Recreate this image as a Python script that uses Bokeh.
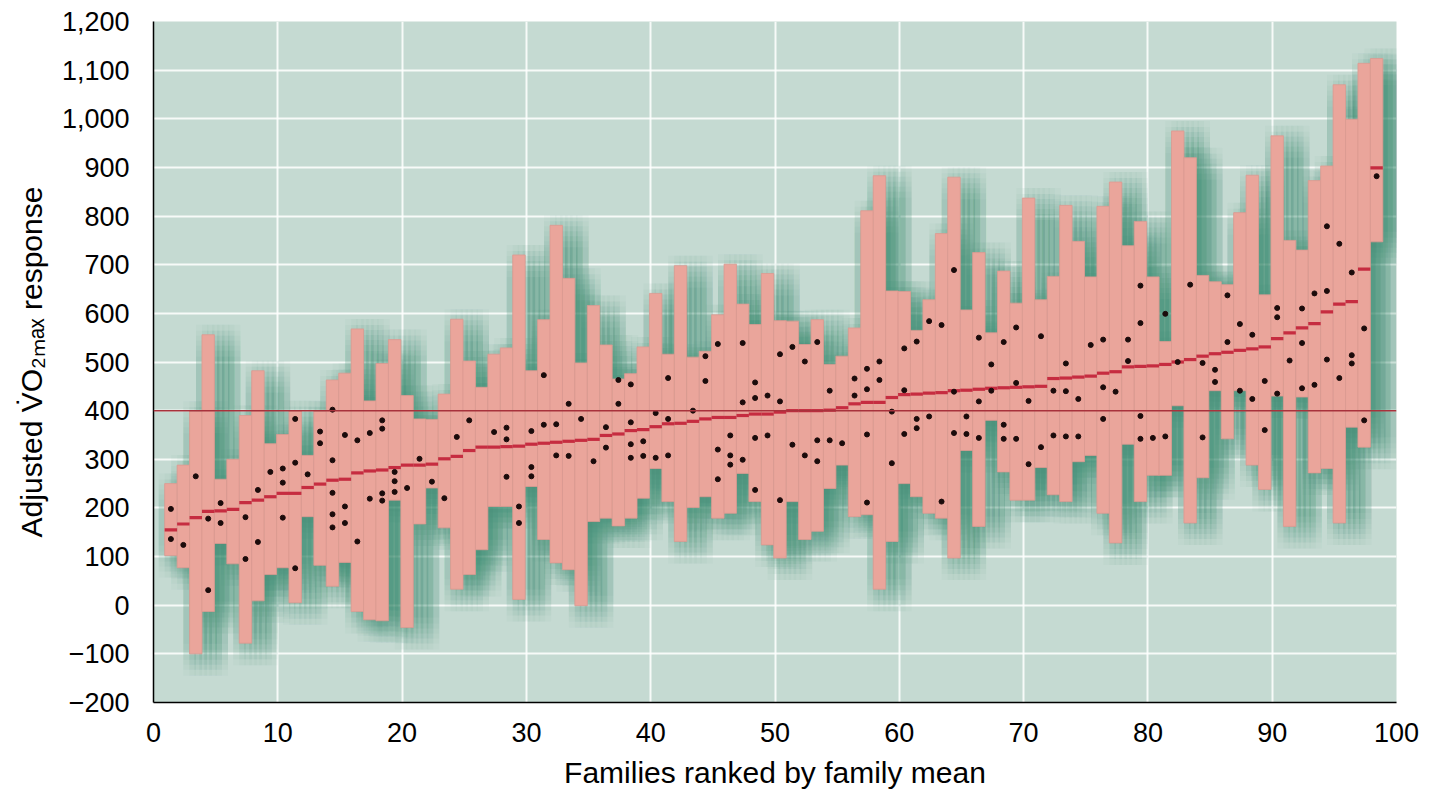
from bokeh.plotting import figure
from bokeh.models import FixedTicker, Span
from bokeh.embed import file_html
from bokeh.resources import INLINE

# ---------------- data ----------------
family_rank = list(range(1, 99))

range_low = [
    102, 77, -100, -13, 127, 85, -78, 9, 63, 77,
    5, 182, 82, 39, 88, -13, -30, -32, 216, -46,
    167, 241, 159, 33, 63, 114, 203, 203, 12, 244,
    135, 87, 73, -1, 172, 179, 163, 179, 220, 281,
    213, 131, 201, 223, 179, 189, 271, 213, 124, 97,
    213, 135, 152, 240, 288, 182, 186, 33, 131, 250,
    223, 189, 179, 97, 318, 162, 380, 274, 216, 216,
    283, 227, 213, 295, 308, 189, 128, 331, 213, 267,
    267, 410, 169, 262, 441, 342, 441, 288, 238, 430,
    162, 428, 272, 281, 169, 366, 325, 747,
]

range_high = [
    250, 288, 399, 556, 259, 300, 390, 482, 332, 351,
    400, 308, 399, 463, 477, 568, 420, 497, 546, 431,
    383, 382, 434, 588, 502, 448, 516, 529, 720, 482,
    587, 781, 672, 498, 616, 535, 465, 476, 531, 641,
    516, 698, 510, 522, 597, 701, 619, 577, 682, 585,
    584, 536, 587, 495, 512, 570, 811, 883, 646, 645,
    565, 628, 764, 880, 607, 725, 560, 687, 621, 837,
    628, 676, 822, 748, 675, 820, 870, 739, 789, 675,
    542, 975, 920, 678, 665, 659, 807, 884, 638, 965,
    750, 730, 873, 903, 1070, 999, 1114, 1124,
]

family_mean = [
    155, 167, 180, 193, 194, 197, 211, 216, 223, 230,
    230, 242, 249, 257, 259, 272, 276, 278, 283, 288,
    288, 290, 301, 306, 318, 325, 325, 326, 327, 331,
    333, 335, 337, 339, 341, 349, 352, 359, 361, 367,
    373, 374, 378, 383, 386, 386, 390, 393, 393, 397,
    400, 400, 400, 401, 406, 414, 417, 417, 427, 433,
    434, 436, 437, 441, 442, 444, 446, 447, 448, 449,
    450, 466, 467, 469, 471, 477, 480, 490, 491, 492,
    495, 500, 505, 512, 517, 520, 524, 527, 531, 548,
    560, 570, 579, 603, 619, 624, 691, 899,
]

member_values = [
    [198, 136], [124], [265], [178, 31], [210, 169], [], [181, 95], [237, 130], [274], [281, 252, 180],
    [383, 293, 76], [269], [357, 333], [402, 298, 231, 187, 160], [350, 203, 169], [339, 131], [354, 219], [380, 363, 230, 215], [274, 255, 233], [241],
    [301], [254], [220], [346], [380], [], [356], [365, 341, 264], [203, 169], [358, 284, 265],
    [473, 371], [372, 308], [414, 307], [383], [296], [366, 324], [463, 414], [454, 376, 331, 303], [337, 307], [395, 303],
    [467, 383, 308], [], [400], [512, 461], [537, 320, 259], [349, 308, 289], [539, 417, 299], [458, 426, 344, 237], [431, 349], [516, 419, 216],
    [531, 330], [501, 308], [541, 339, 296], [441, 339], [333], [466, 431], [486, 444, 351, 211], [501, 463], [398, 292], [528, 442, 352],
    [542, 383, 364], [584, 388], [576, 213], [689, 439, 354], [388, 352], [550, 419, 344], [495, 441], [541, 371, 342], [571, 457, 342], [420, 290],
    [553, 325], [441, 349], [497, 440, 347], [424, 347], [535], [546, 448, 383], [439], [546, 502], [657, 580, 389, 342], [344],
    [599, 347], [500], [659], [498, 345], [484, 459], [637, 541], [578, 441], [556, 424], [461, 360], [611, 592, 435],
    [503], [610, 539, 446], [641, 453], [779, 646, 505], [743, 467], [684, 514, 497], [569, 380], [882],
]

overall_mean = 400

x_ticks = [0, 10, 20, 30, 40, 50, 60, 70, 80, 90, 100]
y_ticks = [-200, -100, 0, 100, 200, 300, 400, 500, 600, 700, 800, 900, 1000, 1100, 1200]
y_tick_labels = ["\u2212200", "\u2212100", "0", "100", "200", "300", "400", "500", "600",
                 "700", "800", "900", "1,000", "1,100", "1,200"]

x_label = "Families ranked by family mean"
y_label = "Adjusted V\u0307O\u2082\u2098\u2090\u2093 response"

# ---------------- styling ----------------
FONT = "Liberation Sans"
BG = "#c5dad2"
BAR = "#eaa59b"
BAR_EDGE = "#dc9a91"
MEAN = "#c62c40"
REF = "#a8323c"
SHADOW = "#2c8774"

FRAME_W, FRAME_H = 1243, 681
X0, X1, Y0, Y1 = 0, 100, -200, 1200
px_x = FRAME_W / (X1 - X0)
px_y = FRAME_H / (Y1 - Y0)

p = figure(frame_width=FRAME_W, frame_height=FRAME_H,
           x_range=(X0, X1), y_range=(Y0, Y1),
           output_backend="svg", toolbar_location=None,
           min_border_left=153, min_border_right=27,
           min_border_top=21, min_border_bottom=89)
p.background_fill_color = BG
p.border_fill_color = "white"
p.outline_line_color = None

# bar geometry from ranks
bar_offset = 0.4
left = [r + bar_offset - 0.5 for r in family_rank]
right = [r + bar_offset + 0.5 for r in family_rank]
centers = [r + bar_offset for r in family_rank]

# soft drop shadow: union outline of the bars drawn with many small shifts
sx, sy = [], []
for i in range(len(family_rank)):
    sx += [left[i], right[i]]
    sy += [range_high[i], range_high[i]]
for i in reversed(range(len(family_rank))):
    sx += [right[i], left[i]]
    sy += [range_low[i], range_low[i]]

kernel = [-16, -10, -5, 0, 5, 10, 16]
shadow_xs, shadow_ys = [], []
for kx in kernel:
    for ky in kernel:
        dx, dy = 10 + kx, 6 + ky
        shadow_xs.append([v + dx / px_x for v in sx])
        shadow_ys.append([v - dy / px_y for v in sy])
p.patches(xs=shadow_xs, ys=shadow_ys, fill_color=SHADOW, fill_alpha=0.034, line_color=None)

# range bars
p.quad(left=left, right=right, top=range_high, bottom=range_low,
       fill_color=BAR, line_color=BAR_EDGE, line_width=1, line_alpha=0.8)

# family means
p.segment(x0=left, x1=right, y0=family_mean, y1=family_mean,
          line_color=MEAN, line_width=3.2)

# overall mean
p.add_layout(Span(location=overall_mean, dimension="width", line_color=REF, line_width=1.5))

# individual members
dot_x, dot_y = [], []
for c, vals in zip(centers, member_values):
    for v in vals:
        dot_x.append(c)
        dot_y.append(v)
p.scatter(dot_x, dot_y, marker="circle", size=5, fill_color="#1b0b0b", line_color="#1b0b0b")

# grid
p.xgrid.ticker = FixedTicker(ticks=x_ticks)
p.ygrid.ticker = FixedTicker(ticks=y_ticks)
for g in (p.xgrid[0], p.ygrid[0]):
    g.grid_line_color = "white"
    g.grid_line_width = 2
    g.grid_line_alpha = 0.85

# axes
p.xaxis.ticker = FixedTicker(ticks=x_ticks)
p.yaxis.ticker = FixedTicker(ticks=y_ticks)
p.yaxis.major_label_overrides = {t: l for t, l in zip(y_ticks, y_tick_labels)}
for ax in (p.xaxis[0], p.yaxis[0]):
    ax.axis_line_color = "black"
    ax.axis_line_width = 1.5
    ax.major_tick_in = 0
    ax.major_tick_out = 0
    ax.minor_tick_line_color = None
    ax.major_label_text_font = FONT
    ax.major_label_text_font_size = "27px"
    ax.major_label_text_color = "black"
    ax.axis_label_text_font = FONT
    ax.axis_label_text_font_style = "normal"
    ax.axis_label_text_color = "black"
p.xaxis.major_label_standoff = 20
p.yaxis.major_label_standoff = 24
p.xaxis.axis_label = x_label
p.xaxis.axis_label_text_font_size = "30px"
p.xaxis.axis_label_standoff = 11
p.yaxis.axis_label = y_label
p.yaxis.axis_label_text_font_size = "30px"
p.yaxis.axis_label_standoff = 11

open("out.html", "w").write(file_html(p, INLINE))
